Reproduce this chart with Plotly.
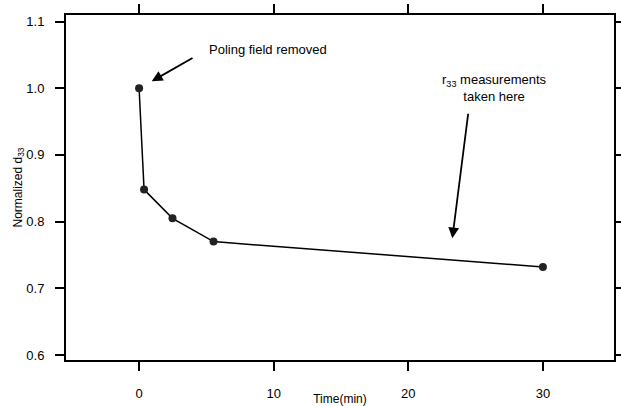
import plotly.graph_objects as go

time_min = [0, 0.37, 2.48, 5.53, 30]
norm_d33 = [1.0, 0.848, 0.805, 0.770, 0.732]
x_ticks = [0, 10, 20, 30]
y_ticks = [0.6, 0.7, 0.8, 0.9, 1.0, 1.1]
y_tick_labels = ["0.6", "0.7", "0.8", "0.9", "1.0", "1.1"]

font = "Liberation Sans, Arial, Helvetica, sans-serif"

fig = go.Figure()
fig.add_trace(go.Scatter(
    x=time_min, y=norm_d33, mode="lines+markers",
    line=dict(color="black", width=1.5),
    marker=dict(color="#222", size=8),
    showlegend=False,
))

fig.add_annotation(
    x=0.94, y=1.0105, ax=4.08, ay=1.0465, axref="x", ayref="y",
    xref="x", yref="y", text="", showarrow=True,
    arrowhead=2, arrowsize=1.2, arrowwidth=1.8, arrowcolor="black",
)
fig.add_annotation(
    x=9.58, y=1.0586, xref="x", yref="y", text="Poling field removed",
    showarrow=False, font=dict(family=font, size=13, color="black"),
)
fig.add_annotation(
    x=23.27, y=0.775, ax=24.46, ay=0.964, axref="x", ayref="y",
    xref="x", yref="y", text="", showarrow=True,
    arrowhead=2, arrowsize=1.2, arrowwidth=1.8, arrowcolor="black",
)
fig.add_annotation(
    x=26.4, y=1.0, xref="x", yref="y",
    text="r<sub>33</sub> measurements<br>taken here",
    showarrow=False, align="center",
    font=dict(family=font, size=13, color="black"),
)

axis_common = dict(
    showgrid=False, zeroline=False, showline=True, linecolor="black",
    linewidth=2, mirror="allticks", ticks="outside", ticklen=9,
    tickwidth=1.5, tickcolor="black", automargin=False,
    tickfont=dict(family=font, size=13, color="black"),
)

fig.update_layout(
    width=621, height=406,
    margin=dict(l=66, r=7, t=15, b=46),
    paper_bgcolor="white", plot_bgcolor="white",
    font=dict(family=font, color="black"),
    xaxis=dict(
        range=[-5.43, 35.28], tickvals=x_ticks,
        ticklabelstandoff=11,
        title=dict(text="Time(min)", font=dict(family=font, size=12), standoff=1),
        **axis_common,
    ),
    yaxis=dict(
        range=[0.5925, 1.1098], tickvals=y_ticks, ticktext=y_tick_labels,
        ticklabelstandoff=8,
        title=dict(text="Normalized d<sub>33</sub>", font=dict(family=font, size=12), standoff=1),
        **axis_common,
    ),
)

fig.write_html(
    "out.html",
    config={"displayModeBar": False},
    post_script="document.body.style.margin='0';",
)
